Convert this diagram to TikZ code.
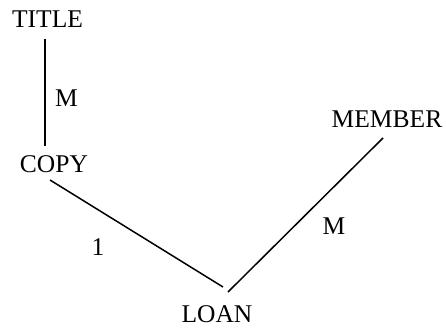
\documentclass[tikz,border=0pt]{standalone}
\usepackage{fontspec}
\setmainfont{Liberation Serif}
\begin{document}
\begin{tikzpicture}[x=1pt,y=1pt,
  lbl/.style={inner sep=0pt, anchor=base, font=\fontsize{25.5}{30}\selectfont},
  conn/.style={line width=1.5pt}]
\useasboundingbox (0,0) rectangle (446,327);
\node[lbl] (title) at (47.5,299) {TITLE};
\node[lbl] (copy) at (54,155) {COPY};
\node[lbl] (loan) at (217,5) {LOAN};
\node[lbl] (member) at (387,200) {MEMBER};
\node[lbl] (m1) at (66.5,220) {M};
\node[lbl] (m2) at (334,93) {M};
\node[lbl] (one) at (98,72) {1};
\coordinate (ta) at (45,288);
\coordinate (tb) at (45,181);
\coordinate (ca) at (50,147);
\coordinate (la) at (223,40);
\coordinate (lb) at (228,35);
\coordinate (ma) at (383,189);
\draw[conn] (ta) -- (tb);
\draw[conn] (ca) -- (la);
\draw[conn] (lb) -- (ma);
\end{tikzpicture}
\end{document}
